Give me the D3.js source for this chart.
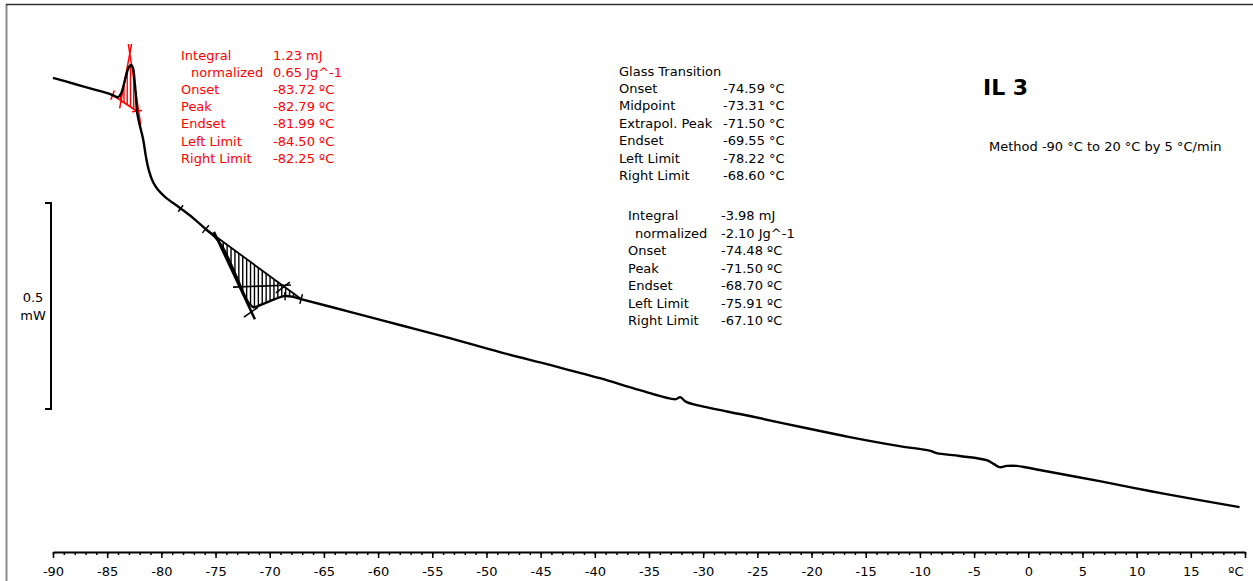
<!DOCTYPE html>
<html>
<head>
<meta charset="utf-8">
<script src="https://cdn.jsdelivr.net/npm/d3@7"></script>
<style>
  html, body { margin: 0; padding: 0; background: #fff; }
  svg { display: block; font-family: "DejaVu Sans", Verdana, sans-serif; }
</style>
</head>
<body>
<svg id="chart" width="1253" height="581"></svg>
<script>
// DSC heating curve, sample IL 3 (heat flow in mW, relative offset)
const tempC = [-90.0, -88.0, -86.0, -85.0, -84.5, -84.0, -83.73, -83.50, -83.27, -83.03,
  -82.79, -82.62, -82.48, -82.34, -82.25, -82.11, -81.88, -81.67, -81.42, -81.14,
  -80.77, -80.31, -79.67, -78.28, -77.09, -75.92, -75.15, -74.41, -73.67, -72.93,
  -72.38, -71.92, -71.50, -71.09, -70.44, -69.52, -68.69, -67.95, -67.12, -62.60,
  -57.99, -53.38, -48.76, -44.15, -39.54, -35.85, -32.53, -32.12, -31.61, -30.68,
  -25.70, -21.09, -16.48, -11.87, -9.10, -8.45, -6.33, -3.84, -3.19, -2.64,
  -1.99, -1.07, -0.15, 1.05, 6.59, 11.20, 15.81, 19.50];
const heatFlow = [0.884, 0.869, 0.854, 0.847, 0.842, 0.837, 0.845, 0.864, 0.888, 0.908,
  0.915, 0.908, 0.879, 0.837, 0.803, 0.782, 0.757, 0.733, 0.692, 0.658,
  0.631, 0.612, 0.595, 0.568, 0.544, 0.517, 0.500, 0.476, 0.437, 0.393,
  0.359, 0.337, 0.327, 0.330, 0.337, 0.347, 0.354, 0.353, 0.347, 0.316,
  0.284, 0.252, 0.218, 0.187, 0.155, 0.126, 0.104, 0.109, 0.098, 0.090,
  0.063, 0.037, 0.012, -0.010, -0.021, -0.027, -0.034, -0.044, -0.053, -0.061,
  -0.058, -0.058, -0.062, -0.068, -0.095, -0.119, -0.141, -0.158];

// Axis ticks
const majorTicks = [-90, -85, -80, -75, -70, -65, -60, -55, -50, -45, -40, -35, -30, -25, -20, -15, -10, -5, 0, 5, 10, 15, 20];
const minorTicks = d3.range(-90, 21, 1);
const axisUnit = "ºC";

// Exothermic peak evaluation (red)
const peak1Labels = ["Integral", "normalized", "Onset", "Peak", "Endset", "Left Limit", "Right Limit"];
const peak1Values = ["1.23 mJ", "0.65 Jg^-1", "-83.72 ºC", "-82.79 ºC", "-81.99 ºC", "-84.50 ºC", "-82.25 ºC"];
const peak1Limits = [-84.50, -82.25];
// inflection tangents of the red peak: [T, mW] end points
const peak1TangentLeft = [[-83.85, 0.810], [-82.75, 0.966]];
const peak1TangentRight = [[-81.90, 0.770], [-83.05, 0.966]];

// Glass transition evaluation
const gtTitle = "Glass Transition";
const gtLabels = ["Onset", "Midpoint", "Extrapol. Peak", "Endset", "Left Limit", "Right Limit"];
const gtValues = ["-74.59 °C", "-73.31 °C", "-71.50 °C", "-69.55 °C", "-78.22 °C", "-68.60 °C"];
const gtLimits = [-78.22, -68.60];

// Endothermic relaxation peak evaluation (black)
const peak2Labels = ["Integral", "normalized", "Onset", "Peak", "Endset", "Left Limit", "Right Limit"];
const peak2Values = ["-3.98 mJ", "-2.10 Jg^-1", "-74.48 ºC", "-71.50 ºC", "-68.70 ºC", "-75.91 ºC", "-67.10 ºC"];
const peak2Limits = [-75.91, -67.10];
const peak2Tangents = [
  [[-75.15, 0.510], [-71.37, 0.298]],
  [[-73.39, 0.376], [-68.04, 0.381]],
  [[-69.43, 0.362], [-68.14, 0.388]],
  [[-72.38, 0.303], [-71.09, 0.327]]
];

const titleText = "IL 3";
const methodText = "Method -90 °C to 20 °C by 5 °C/min";
const scaleBarMW = 0.5;
const scaleBarTop = 0.58;

// ---------------------------------------------------------------
const svg = d3.select("#chart");
const x = d3.scaleLinear().domain([-90, 20]).range([53, 1245]);
const y = d3.scaleLinear().domain([1.0, -0.25]).range([30, 545]);

function hfAt(t) {
  let i = d3.bisectRight(tempC, t);
  i = Math.max(1, Math.min(tempC.length - 1, i));
  const t0 = tempC[i - 1], t1 = tempC[i];
  const f = (t - t0) / (t1 - t0);
  return heatFlow[i - 1] + f * (heatFlow[i] - heatFlow[i - 1]);
}

// frame
svg.append("line").attr("x1", 6.5).attr("x2", 6.5).attr("y1", 4).attr("y2", 581)
  .attr("stroke", "#8a8a8a").attr("stroke-width", 2);
svg.append("line").attr("x1", 6).attr("x2", 1253).attr("y1", 4.5).attr("y2", 4.5)
  .attr("stroke", "#333").attr("stroke-width", 1.5);

// x axis: minor ticks every 1 °C, major every 5 °C
const axisY = 552;
const gMinor = svg.append("g").attr("transform", `translate(0,${axisY})`)
  .call(d3.axisBottom(x).tickValues(minorTicks).tickSize(3).tickSizeOuter(0).tickFormat(""));
gMinor.select(".domain").attr("stroke", "#000").attr("stroke-width", 2);
gMinor.selectAll(".tick line").attr("stroke", "#000").attr("stroke-width", 1.5);

const gMajor = svg.append("g").attr("transform", `translate(0,${axisY})`)
  .call(d3.axisBottom(x).tickValues(majorTicks).tickSize(6).tickSizeOuter(0).tickPadding(9)
    .tickFormat(d => d === 20 ? axisUnit : String(d)));
gMajor.select(".domain").remove();
gMajor.selectAll(".tick line").attr("stroke", "#000").attr("stroke-width", 1.5);
gMajor.selectAll(".tick text").attr("font-size", 13).attr("fill", "#000")
  .attr("font-family", "DejaVu Sans, sans-serif");
gMajor.selectAll(".tick text").filter(d => d === 20).attr("text-anchor", "end").attr("dx", -2);

// scale bar 0.5 mW
const sbTop = y(scaleBarTop), sbBot = y(scaleBarTop - scaleBarMW);
svg.append("path")
  .attr("d", `M45,${sbTop} H51 V${sbBot} H45`)
  .attr("fill", "none").attr("stroke", "#000").attr("stroke-width", 2);
const sbMid = (sbTop + sbBot) / 2;
svg.append("text").attr("x", 33).attr("y", sbMid - 9).attr("dy", "0.35em")
  .attr("text-anchor", "middle").attr("font-size", 13).text(String(scaleBarMW));
svg.append("text").attr("x", 33).attr("y", sbMid + 9).attr("dy", "0.35em")
  .attr("text-anchor", "middle").attr("font-size", 13).text("mW");

// hatched peak areas between the baseline and the curve
function hatch(limits, step, color) {
  const [a, b] = limits;
  const ha = hfAt(a), hb = hfAt(b);
  const base = t => ha + (t - a) / (b - a) * (hb - ha);
  const g = svg.append("g");
  g.selectAll("line.h").data(d3.range(a + step / 2, b, step)).join("line")
    .attr("x1", d => x(d)).attr("x2", d => x(d))
    .attr("y1", d => y(base(d))).attr("y2", d => y(hfAt(d)))
    .attr("stroke", color).attr("stroke-width", 1.4);
  g.append("line")
    .attr("x1", x(a)).attr("y1", y(ha)).attr("x2", x(b)).attr("y2", y(hb))
    .attr("stroke", color).attr("stroke-width", 1.8);
  return g;
}

function segment(seg, color, width) {
  svg.append("line")
    .attr("x1", x(seg[0][0])).attr("y1", y(seg[0][1]))
    .attr("x2", x(seg[1][0])).attr("y2", y(seg[1][1]))
    .attr("stroke", color).attr("stroke-width", width);
}

// small marker perpendicular to the curve at a temperature
function limitTick(t, color, len) {
  const dt = 0.3;
  const dx = x(t + dt) - x(t - dt), dy = y(hfAt(t + dt)) - y(hfAt(t - dt));
  const n = Math.hypot(dx, dy);
  const px = -dy / n * len, py = dx / n * len;
  const cx = x(t), cy = y(hfAt(t));
  svg.append("line").attr("x1", cx - px).attr("y1", cy - py).attr("x2", cx + px).attr("y2", cy + py)
    .attr("stroke", color).attr("stroke-width", 1.5);
}

// red exothermic peak
hatch(peak1Limits, 0.3, "#ff0000");
segment(peak1TangentLeft, "#ff0000", 1.5);
segment(peak1TangentRight, "#ff0000", 1.5);
peak1Limits.forEach(t => limitTick(t, "#ff0000", 5));

// black relaxation peak at the glass transition
hatch(peak2Limits, 0.36, "#000");
peak2Tangents.forEach((s, i) => segment(s, "#000", i === 0 ? 2.5 : 1.6));
peak2Limits.forEach(t => limitTick(t, "#000", 5));
gtLimits.forEach(t => limitTick(t, "#000", 4));

// measured curve
const line = d3.line().x(d => x(d[0])).y(d => y(d[1])).curve(d3.curveCatmullRom.alpha(0.5));
svg.append("path")
  .datum(tempC.map((t, i) => [t, heatFlow[i]]))
  .attr("d", line)
  .attr("fill", "none").attr("stroke", "#000").attr("stroke-width", 2.4)
  .attr("stroke-linejoin", "round");

// result tables
function table(labels, values, xl, xv, y0, step, color, indent) {
  const g = svg.append("g").attr("fill", color).attr("font-size", 13);
  labels.forEach((l, i) => {
    g.append("text").attr("x", xl + (l === "normalized" ? indent : 0)).attr("y", y0 + i * step)
      .attr("dy", "0.35em").text(l);
    g.append("text").attr("x", xv).attr("y", y0 + i * step).attr("dy", "0.35em").text(values[i]);
  });
}
table(peak1Labels, peak1Values, 181, 273, 55, 17.2, "#ff0000", 10);
svg.append("text").attr("x", 619).attr("y", 71).attr("dy", "0.35em").attr("font-size", 13).text(gtTitle);
table(gtLabels, gtValues, 619, 723, 88.5, 17.4, "#000", 0);
table(peak2Labels, peak2Values, 628, 721, 215.5, 17.5, "#000", 7);

svg.append("text").attr("x", 983).attr("y", 87).attr("dy", "0.35em")
  .attr("font-size", 22).attr("font-weight", "bold").text(titleText);
svg.append("text").attr("x", 989).attr("y", 146).attr("dy", "0.35em")
  .attr("font-size", 13).text(methodText);
</script>
</body>
</html>
